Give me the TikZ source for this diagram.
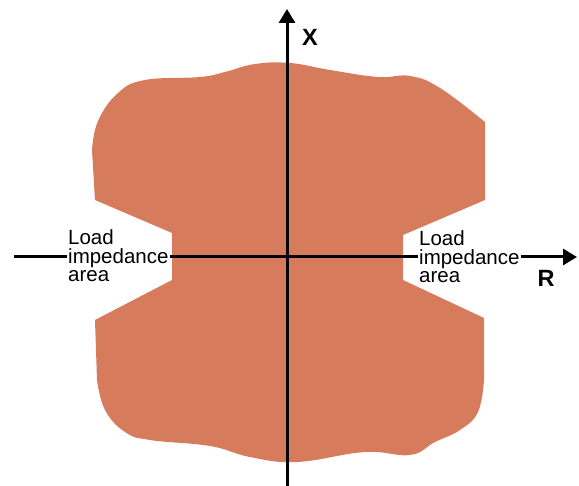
\documentclass[tikz,border=0pt]{standalone}
\usepackage{fontspec}
\setmainfont{Liberation Sans}
\usetikzlibrary{arrows.meta, positioning, calc}
\definecolor{blobfill}{RGB}{214,124,92}
\tikzset{
  blob/.style={fill=blobfill},
  axis/.style={line width=3pt},
  arr/.style={-{Triangle[length=14pt, width=16pt]}, line width=3pt},
  loadtxt/.style={align=left, inner sep=1pt, font=\fontsize{20.5}{18.5}\selectfont},
  axlbl/.style={font=\fontsize{23.5}{25}\selectfont\bfseries},
}
\begin{document}
\begin{tikzpicture}[x=1pt, y=-1pt]
    \useasboundingbox (0,0) rectangle (579,486);
    \fill[blob] (95,200) -- plot[smooth, tension=0.7] coordinates {(92,150) (98,121) (118,93) (145,80)
      (200,77) (225,72) (255,64) (290,63) (330,70) (378,77) (410,76) (440,88) (485,122)}
      -- (485,200) -- (403,235) -- (403,280) -- (484,318)
      -- plot[smooth, tension=0.7] coordinates {(484,380) (478,412) (460,430) (435,442) (410,455)
      (365,452) (297,462) (250,457) (210,446) (150,440) (125,432) (105,410) (97,380)}
      -- (95,320) -- (172,280) -- (172,233) -- cycle;
    \coordinate (axL) at (14,257);
    \coordinate (axR) at (577,257);
    \coordinate (axB) at (287,486);
    \coordinate (axT) at (287,9);
    \node[loadtxt, anchor=west] (loadL) at (67,256) {Load\\impedance\\area};
    \node[loadtxt, anchor=west] (loadR) at (418,257) {Load\\impedance\\area};
    \node[axlbl] (lblX) at (310,37) {X};
    \node[axlbl] (lblR) at (546,278) {R};
    \draw[arr] (axB) -- (axT);
    \draw[axis] (axL) -- (axL -| loadL.west);
    \draw[axis] (axL -| loadL.east) -- (axL -| loadR.west);
    \draw[arr] (axL -| loadR.east) -- (axR);
  \end{tikzpicture}
\end{document}
